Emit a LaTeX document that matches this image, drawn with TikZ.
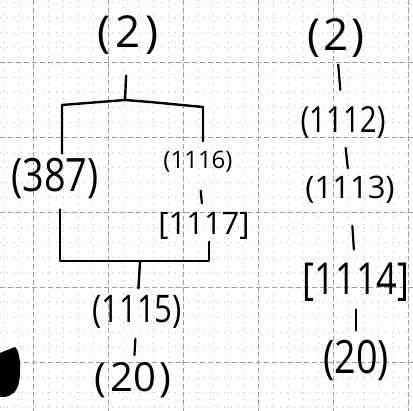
\documentclass[tikz,border=0pt]{standalone}
\usepackage{fontspec}
\setmainfont{Open Sans}
\newfontfamily\narrowhand[FakeStretch=0.82]{Open Sans}
\begin{document}
\begin{tikzpicture}[x=1pt, y=-1pt,
    hand/.style={inner sep=0pt, font=\fontsize{#1}{#1}\selectfont},
    handn/.style={inner sep=0pt, font=\narrowhand\fontsize{#1}{#1}\selectfont},
    stroke/.style={line width=2.4pt, line cap=round, line join=round},
    link/.style={line width=2.2pt, line cap=round},
    minor/.style={gray!45, line width=0.5pt, dash pattern=on 1pt off 6pt},
    major/.style={gray!75, line width=0.7pt, dash pattern=on 5pt off 3pt}]
    \useasboundingbox (0,0) rectangle (413,411);
    % graph paper
    \foreach \x in {3,18,...,408} \draw[minor] (\x,0) -- (\x,411);
    \foreach \y in {2,17,...,407} \draw[minor] (0,\y) -- (413,\y);
    \foreach \x in {33,108,...,408} \draw[major] (\x,0) -- (\x,411);
    \foreach \y in {62,137,...,362} \draw[major] (0,\y) -- (413,\y);
    % left tree
    \node[hand=44] (top) at (128,35) {(\hspace{5pt}2\hspace{5pt})};
    \node[handn=46] (n387) at (55,178) {(387)};
    \node[hand=24] (n1116) at (198,162) {(1116)};
    \node[hand=31] (n1117) at (204,226) {[1117]};
    \node[handn=38] (n1115) at (137,312) {(1115)};
    \node[hand=40] (n20) at (133,380) {(\hspace{4pt}20\hspace{4pt})};
    \coordinate (forkL) at (62,105);
    \coordinate (fork) at (125,100);
    \coordinate (forkM) at (150,102);
    \coordinate (forkR) at (203,107);
    \coordinate (joinL) at (60,261);
    \coordinate (join) at (140,262);
    \coordinate (joinR) at (209,261);
    \draw[stroke, shorten <=21pt] (top) -- (fork);
    \draw[stroke, shorten <=4pt, shorten >=10pt] (n387.north -| forkL) -- (forkL)
      -- (fork) -- (forkM) -- (forkR) -- (n1116.north -| forkR);
    \draw[stroke, shorten <=11pt, shorten >=2pt] (n387.south -| joinL) -- (joinL)
      -- (joinR) -- (n1117.south -| joinR);
    \draw[stroke, shorten >=7pt] (join) -- (n1115);
    \draw[link, shorten <=18pt, shorten >=9pt] (n1116) -- (n1117);
    \draw[link, shorten <=10pt, shorten >=7pt] (n1115) -- (n20);
    % right chain
    \node[hand=44] (m2) at (336,38) {(\hspace{3pt}2\hspace{3pt})};
    \node[handn=36] (m1112) at (343,122) {(1112)};
    \node[hand=31] (m1113) at (350,190) {(1113)};
    \node[handn=44] (m1114) at (356,282) {[1114]};
    \node[handn=46] (m20) at (356,360) {(20)};
    \draw[link, shorten <=7pt, shorten >=16pt] (m2) -- (m1112);
    \draw[link, shorten <=10pt, shorten >=8pt] (m1112) -- (m1113);
    \draw[link, shorten <=22pt, shorten >=13pt] (m1113) -- (m1114);
    \draw[link, shorten <=8pt, shorten >=9pt] (m1114) -- (m20);
    % punched hole shadow
    \fill[black] (0,353) -- (15,347) .. controls (21,352) and (21,372) .. (19,382)
      .. controls (17,392) and (12,396) .. (4,397) -- (0,397) -- cycle;
\end{tikzpicture}
\end{document}
